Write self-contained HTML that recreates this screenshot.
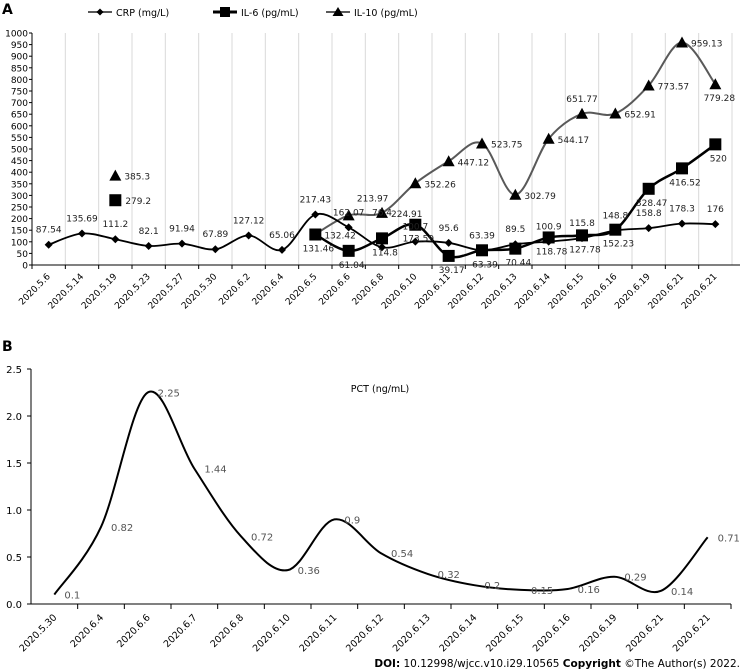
<!DOCTYPE html>
<html><head><meta charset="utf-8"><style>
body{margin:0;background:#fff;width:743px;height:672px;overflow:hidden;font-family:"DejaVu Sans","Liberation Sans",sans-serif}
svg{position:absolute;left:0;top:0}
text{font-family:"DejaVu Sans","Liberation Sans",sans-serif}
</style></head><body>
<svg id="chart" width="743" height="672"></svg>
<script>
// ---- Chart A data ----
const catsA=["2020.5.6","2020.5.14","2020.5.19","2020.5.23","2020.5.27","2020.5.30","2020.6.2","2020.6.4","2020.6.5","2020.6.6","2020.6.8","2020.6.10","2020.6.11","2020.6.12","2020.6.13","2020.6.14","2020.6.15","2020.6.16","2020.6.19","2020.6.21","2020.6.21"];
const crp=[87.54,135.69,111.2,82.1,91.94,67.89,127.12,65.06,217.43,162.07,76.4,100.7,95.6,63.39,89.5,100.9,115.8,148.8,158.8,178.3,176];
const il6=[null,null,279.2,null,null,null,null,null,131.46,61.04,114.8,173.59,39.17,63.39,70.44,118.78,127.78,152.23,328.47,416.52,520];
const il10=[null,null,385.3,null,null,null,null,null,132.42,213.97,224.91,352.26,447.12,523.75,302.79,544.17,651.77,652.91,773.57,959.13,779.28];
const ticksA=[0,50,100,150,200,250,300,350,400,450,500,550,600,650,700,750,800,850,900,950,1000];
// ---- Chart B data ----
const catsB=["2020.5.30","2020.6.4","2020.6.6","2020.6.7","2020.6.8","2020.6.10","2020.6.11","2020.6.12","2020.6.13","2020.6.14","2020.6.15","2020.6.16","2020.6.19","2020.6.21","2020.6.21"];
const pct=[0.1,0.82,2.25,1.44,0.72,0.36,0.9,0.54,0.32,0.2,0.15,0.16,0.29,0.14,0.71];
const ticksB=[0,0.5,1.0,1.5,2.0,2.5];

const svg=document.getElementById('chart');
const NS='http://www.w3.org/2000/svg';
function mk(tag,attrs,parent){const e=document.createElementNS(NS,tag);for(const k in attrs)e.setAttribute(k,attrs[k]);(parent||svg).appendChild(e);return e;}
function txt(s,attrs,parent){const e=mk('text',attrs,parent);e.textContent=s;return e;}
function smooth(pts){
  if(pts.length<2)return '';
  let d='M'+pts[0][0]+','+pts[0][1];
  for(let i=0;i<pts.length-1;i++){
    const p0=pts[i-1]||pts[i],p1=pts[i],p2=pts[i+1],p3=pts[i+2]||p2;
    const t=1/6;
    d+=' C'+(p1[0]+(p2[0]-p0[0])*t)+','+(p1[1]+(p2[1]-p0[1])*t)+' '+(p2[0]-(p3[0]-p1[0])*t)+','+(p2[1]-(p3[1]-p1[1])*t)+' '+p2[0]+','+p2[1];
  }
  return d;
}
function segments(arr,xf,yf){const segs=[];let cur=[];arr.forEach((v,i)=>{if(v==null){if(cur.length)segs.push(cur);cur=[];}else cur.push([xf(i),yf(v)]);});if(cur.length)segs.push(cur);return segs;}

// ===== Chart A =====
const A={x0:32,x1:732,y0:265,y1:33,max:1000};
const FS=9;
const bwA=(A.x1-A.x0)/catsA.length;
const xA=i=>A.x0+bwA*(i+0.5);
const yA=v=>A.y0-(v/A.max)*(A.y0-A.y1);
const gA=mk('g',{});


txt('A',{x:2,y:14,'font-size':14,'font-weight':'bold','font-family':'Liberation Sans'},gA);
for(let i=1;i<=catsA.length;i++){
  const x=A.x0+bwA*i;
  const gl=mk('line',{x1:x,x2:x,y1:A.y1,y2:A.y0,stroke:'#d9d9d9','stroke-width':1},gA);
  
}
ticksA.forEach(t=>{
  const y=yA(t);
  mk('line',{x1:A.x0-3,x2:A.x0,y1:y,y2:y,stroke:'#000'},gA);
  const l=txt(String(t),{x:A.x0-4,y:y+3.5,'font-size':FS,'text-anchor':'end'},gA);
  
});
mk('line',{x1:A.x0,x2:A.x0,y1:A.y1,y2:A.y0,stroke:'#000'},gA);
mk('line',{x1:A.x0,x2:A.x1+8,y1:A.y0,y2:A.y0,stroke:'#000'},gA);
catsA.forEach((c,i)=>{
  const tx=A.x0+bwA*i;
  mk('line',{x1:tx,x2:tx,y1:A.y0,y2:A.y0+4,stroke:'#000'},gA);
  const l=txt(c,{x:0,y:0,'font-size':FS,'text-anchor':'end',transform:`translate(${xA(i)+2},${A.y0+12}) rotate(-45)`},gA);
  
});
// IL-10
segments(il10,xA,yA).forEach(s=>{if(s.length>1){const p=mk('path',{d:smooth(s),fill:'none',stroke:'#595959','stroke-width':2},gA);}});
il10.forEach((v,i)=>{if(v==null||i===8)return;const x=xA(i),y=yA(v);
  const m=mk('polygon',{points:`${x},${y-6} ${x-6},${y+5} ${x+6},${y+5}`,fill:'#000'},gA);
  
  });
// IL-6
segments(il6,xA,yA).forEach(s=>{if(s.length>1){const p=mk('path',{d:smooth(s),fill:'none',stroke:'#000','stroke-width':2.5},gA);}});
il6.forEach((v,i)=>{if(v==null)return;const x=xA(i),y=yA(v);
  const m=mk('rect',{x:x-6,y:y-6,width:12,height:12,fill:'#000'},gA);
  
  });
// CRP
segments(crp,xA,yA).forEach(s=>{const p=mk('path',{d:smooth(s),fill:'none',stroke:'#000','stroke-width':1.8},gA);});
crp.forEach((v,i)=>{const x=xA(i),y=yA(v);
  const m=mk('polygon',{points:`${x},${y-4} ${x+4},${y} ${x},${y+4} ${x-4},${y}`,fill:'#000'},gA);
  
  });
// data labels
crp.forEach((v,i)=>{const l=txt(String(v),{x:xA(i),y:yA(v)-(i===10?32:12),'font-size':FS,'text-anchor':'middle',fill:'#222'},gA);
  });
il6.forEach((v,i)=>{if(v==null)return;const l=txt(String(v),{x:xA(i)+(i===2?10:3),y:yA(v)+(i===2?4:17),'font-size':FS,'text-anchor':i===2?'start':'middle',fill:'#222'},gA);
  });
il10.forEach((v,i)=>{if(v==null)return;
  let dx=9,dy=4,an='start';
  if(i===9){dx=24;dy=-14;an='middle';}
  if(i===16){dx=0;dy=-12;an='middle';}
  if(i===20){dx=4;dy=17;an='middle';}
  const l=txt(String(v),{x:xA(i)+dx,y:yA(v)+dy,'font-size':FS,'text-anchor':an,fill:'#222'},gA);
  });
// legend
const lg=mk('g',{},gA);


mk('line',{x1:88,x2:112,y1:12,y2:12,stroke:'#595959','stroke-width':2},lg);
mk('polygon',{points:'100,8.5 103.5,12 100,15.5 96.5,12',fill:'#000'},lg);
txt('CRP (mg/L)',{x:116,y:16,'font-size':9.5},lg);
mk('line',{x1:213,x2:237,y1:12,y2:12,stroke:'#000','stroke-width':3},lg);
mk('rect',{x:220,y:7,width:10,height:10,fill:'#000'},lg);
txt('IL-6 (pg/mL)',{x:241,y:16,'font-size':9.5},lg);
mk('line',{x1:326,x2:350,y1:12,y2:12,stroke:'#595959','stroke-width':2},lg);
mk('polygon',{points:'338,7 332.5,16 343.5,16',fill:'#000'},lg);
txt('IL-10 (pg/mL)',{x:354,y:16,'font-size':9.5},lg);

// ===== Chart B =====
const B={x0:31,x1:731,y0:604,y1:369,max:2.5};
const bwB=(B.x1-B.x0)/catsB.length;
const xB=i=>B.x0+bwB*(i+0.5);
const yB=v=>B.y0-(v/B.max)*(B.y0-B.y1);
const gB=mk('g',{});


txt('B',{x:2,y:351,'font-size':14,'font-weight':'bold','font-family':'Liberation Sans'},gB);
txt('PCT (ng/mL)',{x:380,y:392,'font-size':9.5,'text-anchor':'middle'},gB);
ticksB.forEach(t=>{const y=yB(t);
  mk('line',{x1:B.x0-4,x2:B.x0,y1:y,y2:y,stroke:'#000'},gB);
  const l=txt(t.toFixed(1),{x:B.x0-9,y:y+4,'font-size':10,'text-anchor':'end'},gB);
  });
mk('line',{x1:B.x0,x2:B.x0,y1:B.y1,y2:B.y0,stroke:'#000'},gB);
mk('line',{x1:B.x0,x2:B.x1,y1:B.y0,y2:B.y0,stroke:'#000'},gB);
catsB.forEach((c,i)=>{const tx=B.x0+bwB*(i+1);
  mk('line',{x1:tx,x2:tx,y1:B.y0,y2:B.y0+5,stroke:'#000'},gB);
  const l=txt(c,{x:0,y:0,'font-size':9.5,'text-anchor':'end',transform:`translate(${xB(i)+3},${B.y0+14}) rotate(-45)`},gB);
  });
const pp=mk('path',{d:smooth(pct.map((v,i)=>[xB(i),yB(v)])),fill:'none',stroke:'#000','stroke-width':2},gB);


pct.forEach((v,i)=>{const l=txt(String(v),{x:xB(i)+10,y:yB(v)+4,'font-size':10,fill:'#555'},gB);
  });

const doi=mk('text',{x:740,y:667,'font-size':10.5,'text-anchor':'end','font-family':'Liberation Sans'});


doi.innerHTML='<tspan font-weight="bold">DOI:</tspan> 10.12998/wjcc.v10.i29.10565  <tspan font-weight="bold">Copyright</tspan> ©The Author(s) 2022.';
</script>
</body></html>
